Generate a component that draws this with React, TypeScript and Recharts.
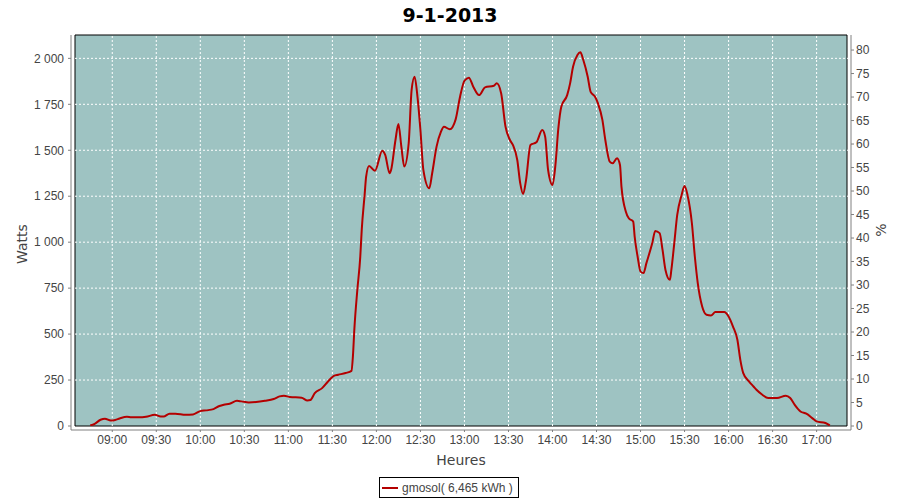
import React from 'react';
import { LineChart, Line, XAxis, YAxis, ReferenceArea, ReferenceLine } from 'recharts';

// heure de mesure (HH:MM) et puissance instantanée (W)
const TIMES = [
  '08:45', '08:48', '08:52', '08:55', '08:59', '09:02', '09:05', '09:10', '09:13', '09:18',
  '09:23', '09:29', '09:33', '09:35', '09:39', '09:43', '09:50', '09:55', '10:00', '10:04',
  '10:09', '10:13', '10:16', '10:20', '10:25', '10:28', '10:33', '10:38', '10:44', '10:50',
  '10:54', '10:57', '11:01', '11:09', '11:13', '11:15', '11:18', '11:23', '11:27', '11:31',
  '11:34', '11:39', '11:43', '11:44', '11:45', '11:47', '11:49', '11:50', '11:52', '11:53',
  '11:55', '11:59', '12:04', '12:06', '12:09', '12:10', '12:13', '12:15', '12:17', '12:19',
  '12:22', '12:24', '12:26', '12:28', '12:30', '12:32', '12:36', '12:38', '12:41', '12:44',
  '12:46', '12:50', '12:54', '12:57', '13:00', '13:03', '13:06', '13:10', '13:14', '13:20',
  '13:22', '13:25', '13:28', '13:31', '13:33', '13:36', '13:38', '13:40', '13:42', '13:45',
  '13:49', '13:53', '13:55', '13:57', '14:00', '14:02', '14:04', '14:06', '14:10', '14:12',
  '14:14', '14:17', '14:19', '14:21', '14:24', '14:26', '14:29', '14:31', '14:34', '14:36',
  '14:39', '14:41', '14:44', '14:46', '14:47', '14:50', '14:52', '14:55', '14:56', '14:58',
  '15:00', '15:02', '15:04', '15:08', '15:10', '15:13', '15:15', '15:17', '15:20', '15:21',
  '15:23', '15:25', '15:28', '15:30', '15:32', '15:35', '15:37', '15:39', '15:42', '15:45',
  '15:48', '15:51', '15:57', '16:00', '16:03', '16:06', '16:08', '16:10', '16:14', '16:17',
  '16:19', '16:23', '16:27', '16:33', '16:39', '16:42', '16:45', '16:49', '16:53', '16:57',
  '17:00', '17:06', '17:09',
];

const WATTS = [
  3, 12, 34, 40, 30, 33, 41, 50, 47, 47,
  50, 61, 52, 52, 67, 67, 61, 63, 81, 85,
  92, 109, 116, 121, 137, 134, 128, 130, 137, 147,
  161, 165, 158, 154, 139, 141, 179, 206, 242, 273,
  279, 288, 300, 380, 530, 740, 920, 1067, 1260, 1357,
  1415, 1389, 1498, 1475, 1375, 1393, 1556, 1643, 1520, 1411,
  1538, 1828, 1900, 1791, 1610, 1393, 1293, 1375, 1520, 1601,
  1628, 1614, 1668, 1791, 1878, 1895, 1846, 1800, 1842, 1851,
  1864, 1810, 1628, 1556, 1529, 1447, 1321, 1262, 1339, 1529,
  1543, 1610, 1574, 1393, 1311, 1420, 1620, 1737, 1800, 1864,
  1954, 2018, 2033, 1991, 1900, 1818, 1791, 1755, 1665, 1556,
  1438, 1429, 1457, 1420, 1302, 1166, 1130, 1112, 1030, 922,
  840, 832, 886, 995, 1061, 1049, 958, 849, 795, 849,
  995, 1148, 1257, 1306, 1257, 1103, 922, 777, 650, 605,
  601, 620, 620, 596, 541, 469, 360, 288, 242, 215,
  197, 170, 152, 152, 165, 152, 116, 79, 67, 43,
  25, 16, 3,
];

const X_TICKS = ['09:00', '09:30', '10:00', '10:30', '11:00', '11:30', '12:00', '12:30', '13:00',
  '13:30', '14:00', '14:30', '15:00', '15:30', '16:00', '16:30', '17:00'];
const WATT_TICKS = [0, 250, 500, 750, 1000, 1250, 1500, 1750, 2000];
const PCT_TICKS = [0, 5, 10, 15, 20, 25, 30, 35, 40, 45, 50, 55, 60, 65, 70, 75, 80];

const X_MIN = 514.6;
const X_MAX = 1040.7;
const W_MAX = 2127;
const PCT_MAX = 83.2;

const toMin = (t: string) => {
  const [h, m] = t.split(':').map(Number);
  return h * 60 + m;
};
const fmtTime = (v: number) => {
  const h = Math.floor(v / 60);
  const m = Math.round(v % 60);
  return `${String(h).padStart(2, '0')}:${String(m).padStart(2, '0')}`;
};
const fmtWatt = (v: number) =>
  v >= 1000 ? `${Math.floor(v / 1000)} ${String(v % 1000).padStart(3, '0')}` : String(v);

const data = TIMES.map((t, i) => ({ m: toMin(t), w: WATTS[i] }));

const tickStyle = { fontFamily: '"Liberation Sans", Arial, sans-serif', fontSize: 12, fill: '#444' };
const labelStyle: React.CSSProperties = {
  position: 'absolute',
  fontFamily: '"DejaVu Sans", sans-serif',
  fontSize: 14,
  color: '#444',
  whiteSpace: 'nowrap',
};

export default function App() {
  return (
    <div style={{ position: 'absolute', left: 0, top: 0, width: 900, height: 500, background: '#fff' }}>
      <div
        style={{
          position: 'absolute', top: 3, left: 0, width: 900, textAlign: 'center',
          fontFamily: '"DejaVu Sans", sans-serif', fontWeight: 'bold', fontSize: 19, lineHeight: '24px', color: '#000',
        }}
      >
        9-1-2013
      </div>

      <LineChart width={900} height={500} data={data} margin={{ top: 35, right: 0, bottom: 0, left: 0 }}>
        <ReferenceArea yAxisId="left" x1={X_MIN} x2={X_MAX} y1={0} y2={W_MAX} fill="#9ec3c2" fillOpacity={1} stroke="#000" strokeWidth={1} />
        {X_TICKS.map((t) => (
          <ReferenceLine key={t} yAxisId="left" x={toMin(t)} stroke="#ffffff" strokeDasharray="2 2" />
        ))}
        {WATT_TICKS.filter((v) => v > 0).map((v) => (
          <ReferenceLine key={v} yAxisId="left" y={v} stroke="#ffffff" strokeDasharray="2 2" />
        ))}
        <XAxis
          dataKey="m"
          type="number"
          domain={[X_MIN, X_MAX]}
          ticks={X_TICKS.map(toMin)}
          tickFormatter={fmtTime}
          height={70}
          padding={{ left: 4, right: 4 }}
          stroke="#808080"
          tickSize={2}
          tickMargin={3}
          tick={tickStyle}
          allowDataOverflow
        />
        <YAxis
          yAxisId="left"
          type="number"
          domain={[0, W_MAX]}
          ticks={WATT_TICKS}
          tickFormatter={fmtWatt}
          width={71}
          padding={{ top: 0, bottom: 4 }}
          stroke="#808080"
          tickSize={3}
          tickMargin={4}
          tick={tickStyle}
          allowDataOverflow
        />
        <YAxis
          yAxisId="right"
          orientation="right"
          type="number"
          domain={[0, PCT_MAX]}
          ticks={PCT_TICKS}
          width={49}
          padding={{ top: 0, bottom: 4 }}
          stroke="#808080"
          tickSize={3}
          tickMargin={2}
          tick={tickStyle}
          allowDataOverflow
        />
        <Line
          yAxisId="left"
          type="monotone"
          dataKey="w"
          stroke="#b40000"
          strokeWidth={2}
          dot={false}
          isAnimationActive={false}
        />
      </LineChart>

      <div style={{ ...labelStyle, left: 22, top: 244, transform: 'translate(-50%, -50%) rotate(-90deg)' }}>Watts</div>
      <div style={{ ...labelStyle, left: 881, top: 230, transform: 'translate(-50%, -50%) rotate(-90deg)' }}>%</div>
      <div style={{ ...labelStyle, left: 461, top: 460, transform: 'translate(-50%, -50%)' }}>Heures</div>

      <div
        style={{
          position: 'absolute', left: 379, top: 477, height: 19, padding: '0 5px 0 2px',
          border: '1px solid #000', display: 'flex', alignItems: 'center', gap: 4,
          fontFamily: '"Liberation Sans", Arial, sans-serif', fontSize: 12, color: '#444', whiteSpace: 'nowrap',
        }}
      >
        <span style={{ display: 'inline-block', width: 16, height: 2, background: '#b40000' }} />
        gmosol( 6,465 kWh )
      </div>
    </div>
  );
}
